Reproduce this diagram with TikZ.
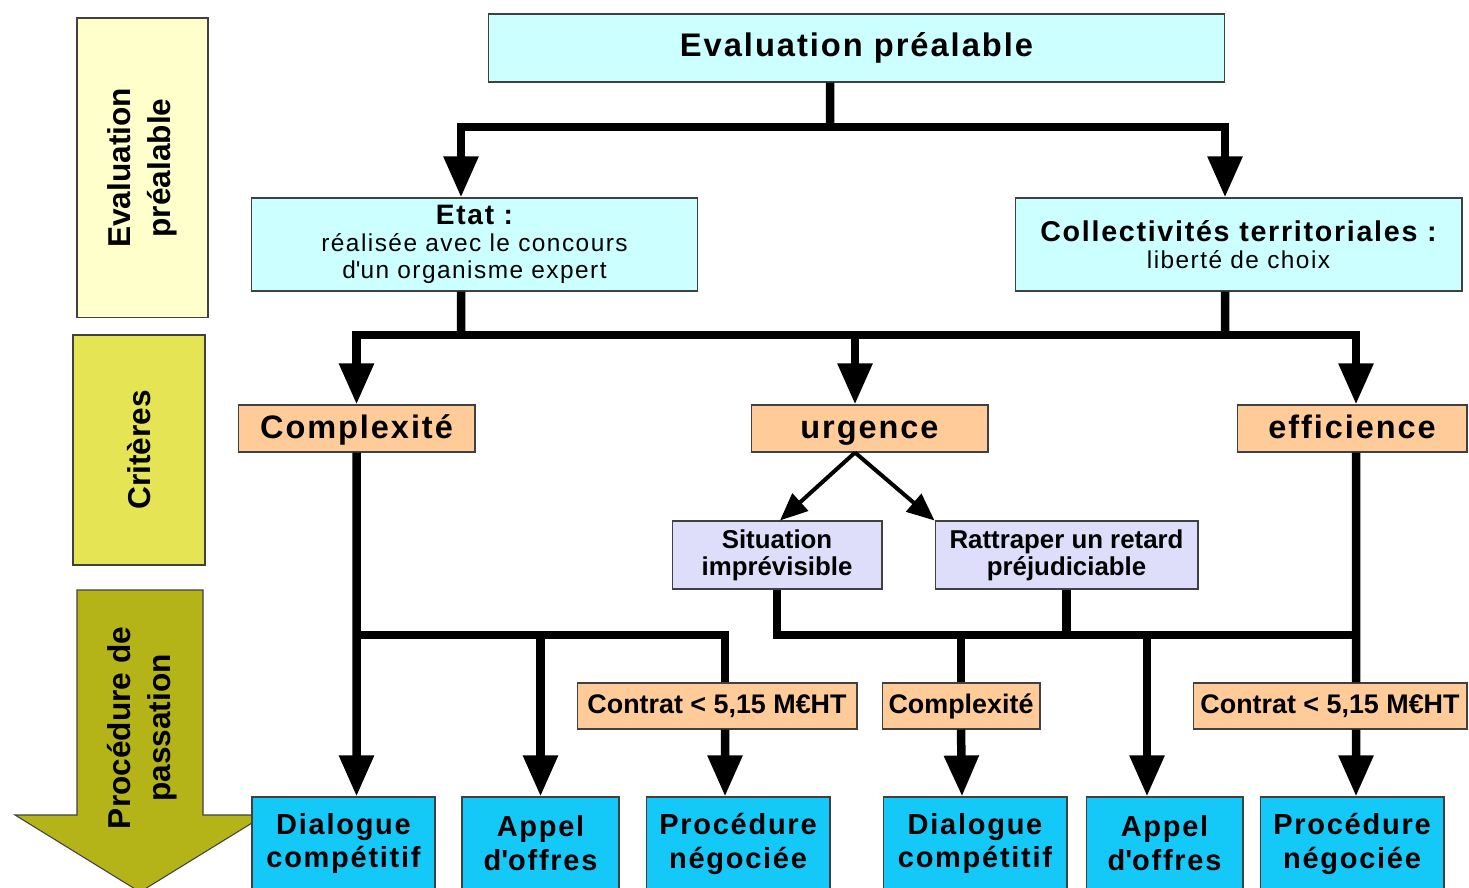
\documentclass[tikz,border=0pt]{standalone}
\usepackage{fontspec}
\setmainfont{Liberation Sans}
\newfontfamily\widefont{Liberation Sans}[LetterSpace=6]
\usetikzlibrary{arrows.meta, positioning, calc}
\definecolor{cCyanPale}{RGB}{204,255,255}
\definecolor{cOrange}{RGB}{255,204,153}
\definecolor{cLavender}{RGB}{222,222,250}
\definecolor{cCyan}{RGB}{20,200,248}
\definecolor{cPale}{RGB}{255,255,204}
\definecolor{cLime}{RGB}{228,228,84}
\definecolor{cOlive}{RGB}{180,180,24}
\tikzset{
  basebox/.style={rectangle, draw=black!75, line width=0.6pt,
                  align=center, inner sep=2pt},
  titlenode/.style={basebox, fill=cCyanPale,
                    font=\widefont\bfseries\fontsize{18.6}{21}\selectfont},
  headnode/.style={basebox, fill=cCyanPale, minimum height=1.86cm,
                   font=\widefont\fontsize{13.9}{15.5}\selectfont},
  critnode/.style={basebox, fill=cOrange, minimum height=0.94cm,
                   text height=2.7ex, text depth=0.5ex,
                   font=\widefont\bfseries\fontsize{18.5}{21}\selectfont},
  casenode/.style={basebox, fill=cLavender, minimum height=1.36cm,
                   font=\bfseries\fontsize{14.7}{15.5}\selectfont},
  condnode/.style={basebox, fill=cOrange, minimum height=0.92cm,
                   font=\bfseries\fontsize{15.3}{18}\selectfont},
  procnode/.style={basebox, fill=cCyan, minimum height=1.86cm,
                   font=\widefont\bfseries\fontsize{16.5}{19.3}\selectfont},
  sidenode/.style={basebox, rotate=90,
                   font=\bfseries\fontsize{18}{23}\selectfont},
  busline/.style={line width=0.17cm},
  bigarrow/.style={busline, -{Triangle[length=0.82cm, width=0.66cm]}},
  thinarrow/.style={line width=0.08cm, -{Triangle[length=0.55cm, width=0.46cm]}}
}

\begin{document}
\begin{tikzpicture}[x=0.02cm, y=-0.02cm]
  \useasboundingbox (0,0) rectangle (1469,888);

  % ── Left column: phases ──
  \node[sidenode, fill=cPale, minimum width=6cm, minimum height=2.62cm] (sideeval)
      at (142.5,168) {Evaluation\\préalable};
  \node[sidenode, fill=cLime, minimum width=4.6cm, minimum height=2.64cm] (sidecrit)
      at (139,450) {Critères};
  \draw[fill=cOlive, draw=black!75, line width=0.6pt]
      (77,590) -- (203,590) -- (203,815) -- (265,815) -- (140,892)
      -- (15,815) -- (77,815) -- cycle;
  \node[rotate=90, align=center, font=\bfseries\fontsize{18}{23}\selectfont] (sideproc)
      at (142,728) {Procédure de\\passation};

  % ── Evaluation ──
  \node[titlenode, minimum width=14.74cm, minimum height=1.36cm] (evaltop)
      at (856.5,48) {Evaluation préalable};
  \node[headnode, minimum width=8.94cm] (etat) at (474.5,244.5)
      {{\bfseries\fontsize{16}{17}\selectfont Etat :}\\réalisée avec le concours\\
       d\textquotesingle un organisme expert};
  \node[headnode, minimum width=8.94cm] (coll) at (1238.5,244.5)
      {{\bfseries\fontsize{16.3}{18}\selectfont Collectivités territoriales :}\\liberté de choix};

  % ── Criteres ──
  \node[critnode, minimum width=4.74cm] (complex) at (356.5,428.5) {Complexité};
  \node[critnode, minimum width=4.74cm] (urgence) at (869.5,428.5) {urgence};
  \node[critnode, minimum width=4.6cm] (effic) at (1352,428.5) {efficience};

  \node[casenode, minimum width=4.2cm] (imprev) at (777,555) {Situation\\imprévisible};
  \node[casenode, minimum width=5.26cm] (retard) at (1066.5,555)
      {Rattraper un retard\\préjudiciable};

  % ── Conditions ──
  \node[condnode, minimum width=5.6cm] (seuilA) at (717,706) {Contrat < 5,15 M€HT};
  \node[condnode, minimum width=3.16cm] (complexB) at (961,706) {Complexité};
  \node[condnode, minimum width=5.48cm] (seuilB) at (1330,706) {Contrat < 5,15 M€HT};

  % ── Procedures ──
  \node[procnode, minimum width=3.66cm] (dialA) at (343.5,843.5) {Dialogue\\compétitif};
  \node[procnode, minimum width=3.14cm] (appelA) at (540.5,843.5) {Appel\\d\textquotesingle offres};
  \node[procnode, minimum width=3.68cm] (negoA) at (738,843.5) {Procédure\\négociée};
  \node[procnode, minimum width=3.68cm] (dialB) at (975,843.5) {Dialogue\\compétitif};
  \node[procnode, minimum width=3.14cm] (appelB) at (1164.5,843.5) {Appel\\d\textquotesingle offres};
  \node[procnode, minimum width=3.68cm] (negoB) at (1352,843.5) {Procédure\\négociée};

  % ── ARROWS ──
  \coordinate (splitTop) at (830,127);
  \draw[busline] ([xshift=-0.53cm]evaltop.south) -- (splitTop);
  \draw[bigarrow] (splitTop) -| ([xshift=-0.27cm]etat.north);
  \draw[bigarrow] (splitTop) -| ([xshift=-0.27cm]coll.north);

  \coordinate (splitL) at (461,335);
  \coordinate (splitR) at (1225,335);
  \draw[busline] ([xshift=-0.27cm]etat.south) -- (splitL);
  \draw[busline] ([xshift=-0.27cm]coll.south) -- (splitR);
  \draw[busline] (splitL) -- (splitR);
  \draw[bigarrow] (splitL) -| (complex.north);
  \draw[bigarrow] (splitL) -| ([xshift=-0.29cm]urgence.north);
  \draw[bigarrow] (splitR) -| ([xshift=0.08cm]effic.north);

  \draw[thinarrow] ([xshift=-0.29cm]urgence.south) -- ([xshift=0.06cm]imprev.north);
  \draw[thinarrow] ([xshift=-0.29cm]urgence.south) -- (retard.north west);

  \coordinate (splitC) at (356.5,635);
  \draw[bigarrow] (complex.south) -- ([xshift=0.26cm]dialA.north);
  \draw[busline] (splitC) -| ([xshift=0.16cm]seuilA.north);
  \draw[bigarrow] (splitC -| appelA.north) -- (appelA.north);
  \draw[bigarrow] ([xshift=0.16cm]seuilA.south) -- ([xshift=-0.26cm]negoA.north);

  \coordinate (splitE) at (1356,635);
  \draw[busline] (imprev.south) |- (splitE);
  \draw[busline] (retard.south) -- (retard.south |- splitE);
  \draw[busline] ([xshift=0.08cm]effic.south) -- ([xshift=0.52cm]seuilB.north);
  \draw[busline] (splitE -| complexB.north) -- (complexB.north);
  \draw[bigarrow] (complexB.south) -- ([xshift=-0.26cm]dialB.north);
  \coordinate (appelBtop) at ([xshift=-0.35cm]appelB.north);
  \draw[bigarrow] (splitE -| appelBtop) -- (appelBtop);
  \draw[bigarrow] ([xshift=0.52cm]seuilB.south) -- ([xshift=0.08cm]negoB.north);

\end{tikzpicture}
\end{document}
